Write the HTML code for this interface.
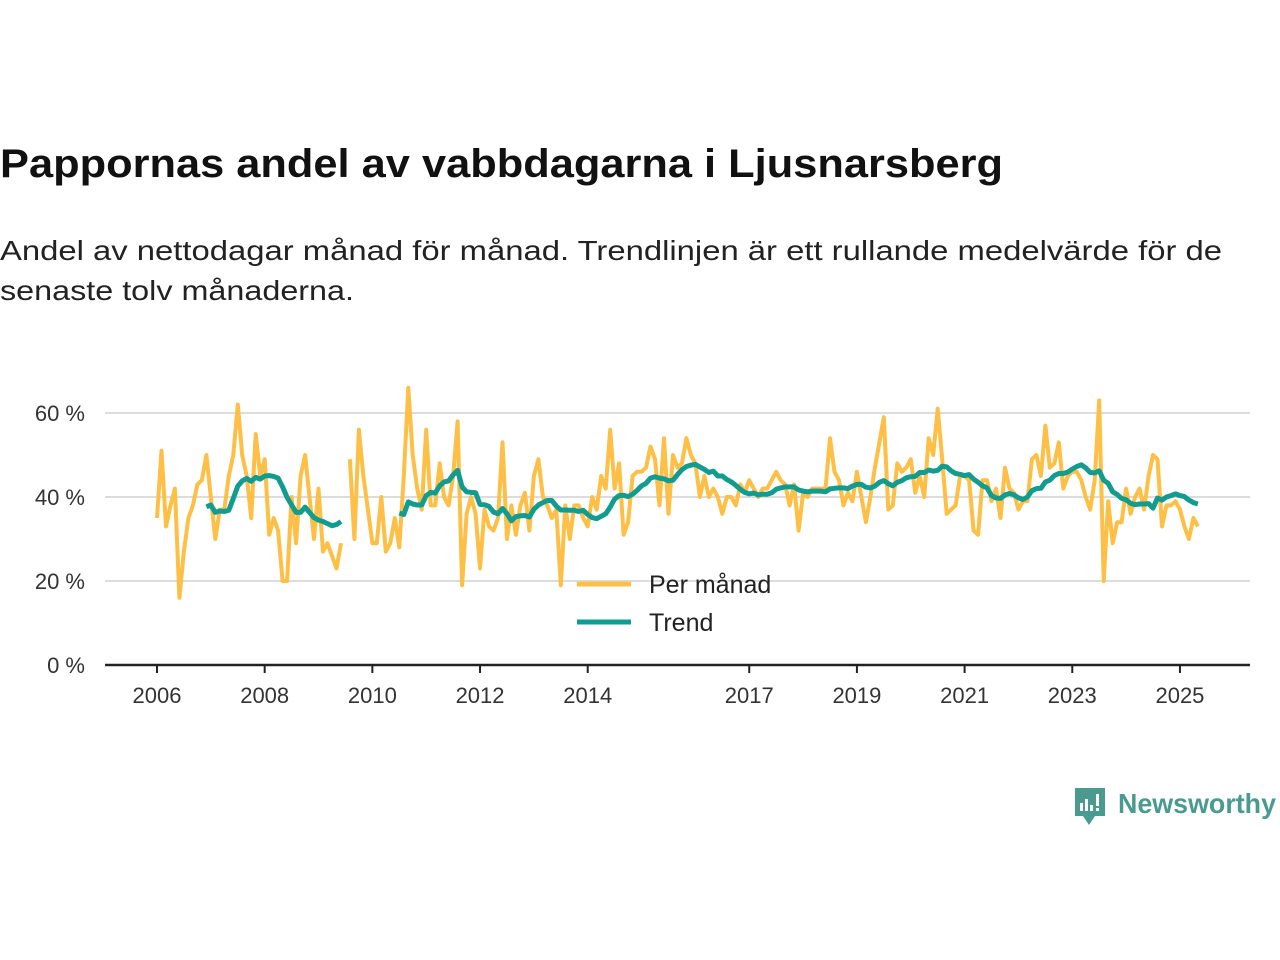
<!DOCTYPE html>
<html><head><meta charset="utf-8"><style>
body{margin:0;background:#fff;}
svg{display:block;font-family:"Liberation Sans","DejaVu Sans",sans-serif;}
</style></head><body>
<svg id="chart" width="1280" height="960" viewBox="0 0 1280 960" xmlns="http://www.w3.org/2000/svg">
<text x="0" y="177" font-size="40" font-weight="bold" fill="#111" textLength="1003" lengthAdjust="spacingAndGlyphs">Pappornas andel av vabbdagarna i Ljusnarsberg</text>
<text x="0" y="260" font-size="28" fill="#222" textLength="1222" lengthAdjust="spacingAndGlyphs">Andel av nettodagar månad för månad. Trendlinjen är ett rullande medelvärde för de</text>
<text x="0" y="300" font-size="28" fill="#222" textLength="354" lengthAdjust="spacingAndGlyphs">senaste tolv månaderna.</text>
<g id="grid"></g>
<g id="yaxis"></g>
<g id="xaxis"></g>
<g id="series"></g>
<g>
<line x1="577" y1="584" x2="631" y2="584" stroke="#fdbf45" stroke-width="5"/>
<text x="649" y="593" font-size="25" fill="#222">Per månad</text>
<line x1="577" y1="622" x2="631" y2="622" stroke="#129c8f" stroke-width="5"/>
<text x="649" y="631" font-size="25" fill="#222">Trend</text>
</g>
<g>
<path d="M1075 788 h30 v28 h-10 l-6 9 l-6 -9 h-8 z" fill="#4a9a8f"/>
<rect x="1080" y="803" width="3" height="8" fill="#fff"/><rect x="1085" y="799" width="3" height="12" fill="#fff"/><rect x="1090" y="805" width="3" height="6" fill="#fff"/><rect x="1096" y="794" width="3" height="12" fill="#fff"/><rect x="1096" y="808" width="3" height="3" fill="#fff"/>
<text x="1118" y="813" font-size="28" font-weight="bold" fill="#4a9a8f" textLength="158" lengthAdjust="spacingAndGlyphs">Newsworthy</text>
</g>
</svg>
<script>
const startYear = 2006;
const yTicks = [0, 20, 40, 60];
const yTickLabels = ["0 %", "20 %", "40 %", "60 %"];
const xTickYears = [2006, 2008, 2010, 2012, 2014, 2017, 2019, 2021, 2023, 2025];
const monthly = [
35,51,33,38,42,16,27,35,38,43,44,50,
40,30,37,37,45,50,62,50,45,35,55,45,
49,31,35,32,20,20,40,29,45,50,40,30,
42,27,29,26,23,29,null,49,30,56,45,37,
29,29,40,27,29,35,28,45,66,50,42,37,
56,38,38,48,40,38,45,58,19,36,40,36,
23,37,33,32,35,53,30,38,31,38,41,32,
45,49,40,38,35,37,19,38,30,38,38,35,
33,40,37,45,42,56,42,48,31,34,45,46,
46,47,52,49,38,54,36,50,47,48,54,50,
48,40,45,40,42,40,36,40,40,38,43,41,
44,42,40,42,42,44,46,44,43,38,43,32,
41,40,42,42,42,42,54,46,44,38,41,39,
46,40,34,40,47,53,59,37,38,48,46,47,
49,41,45,40,54,50,61,49,36,37,38,45,
45,44,32,31,44,44,39,42,35,47,42,41,
37,39,39,49,50,45,57,47,48,53,42,45,
46,46,44,40,37,44,63,20,39,29,34,34,
42,36,40,42,37,45,50,49,33,38,38,39,
37,33,30,35,33
];
const NS='http://www.w3.org/2000/svg';
const x0=105,x1=1250;
function xPos(t){return 157+(t-2006)*53.84;}
function yPos(v){return 665-v*4.2;}
function mk(tag,attrs,parent){const e=document.createElementNS(NS,tag);for(const k in attrs)e.setAttribute(k,attrs[k]);parent.appendChild(e);return e;}
const grid=document.getElementById('grid'),ya=document.getElementById('yaxis'),xa=document.getElementById('xaxis'),ser=document.getElementById('series');
yTicks.forEach((v,i)=>{
  if(v>0){const l=mk('line',{x1:x0,x2:x1,y1:yPos(v),y2:yPos(v),stroke:'#dcdcdc','stroke-width':2},grid);
  
  }
  const t=mk('text',{x:85,y:yPos(v)+8,'text-anchor':'end','font-size':22,fill:'#333'},ya);
  t.textContent=yTickLabels[i];
  
  
});
const ax=mk('line',{x1:x0,x2:x1,y1:665,y2:665,stroke:'#222','stroke-width':2.5},xa);


xTickYears.forEach(yr=>{
  const x=xPos(yr);
  const tk=mk('line',{x1:x,x2:x,y1:665,y2:673,stroke:'#222','stroke-width':2},xa);
  
  
  const t=mk('text',{x:x,y:703,'text-anchor':'middle','font-size':22,fill:'#333'},xa);
  t.textContent=yr;
  
  
});
function paths(vals){let d='',pen=false;vals.forEach((v,i)=>{if(v==null){pen=false;return;}const x=xPos(startYear+i/12),y=yPos(v);d+=(pen?'L':'M')+x.toFixed(1)+' '+y.toFixed(1)+' ';pen=true;});return d;}
const trend=monthly.map((v,i)=>{if(i<11)return null;let s=0;for(let k=i-11;k<=i;k++){if(monthly[k]==null)return null;s+=monthly[k];}return s/12;});
const p1=mk('path',{d:paths(monthly),fill:'none',stroke:'#fdbf45','stroke-width':4,'stroke-linejoin':'round'},ser);


const p2=mk('path',{d:paths(trend),fill:'none',stroke:'#129c8f','stroke-width':5,'stroke-linejoin':'round'},ser);


</script>
</body></html>
